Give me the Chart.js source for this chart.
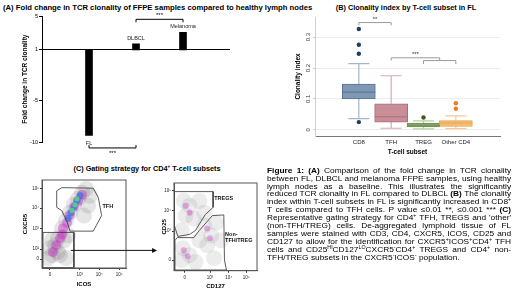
<!DOCTYPE html>
<html lang="en">
<head>
  <meta charset="UTF-8">
  <title>Figure 1</title>
  <script src="https://cdn.jsdelivr.net/npm/chart.js"></script>
  <style>
    body { margin: 0; padding: 0; background: #fff; font-family: Arial, "Liberation Sans", sans-serif; }
    #fig { position: relative; width: 520px; height: 291px; overflow: hidden; background: #fff; }
    canvas { position: absolute; }
    .ttl { position: absolute; font-weight: bold; font-size: 7.3px; line-height: 9px; white-space: nowrap; color: #000; }
    .ttl sup, #caption sup { font-size: 4.6px; vertical-align: 3px; line-height: 0; }
    #caption { position: absolute; left: 266.5px; top: 166.8px; width: 211px; font-size: 7.2px; line-height: 7.9px; color: #000;
               transform: scaleX(1.157); transform-origin: 0 0; }
    #caption div { white-space: nowrap; text-align: justify; text-align-last: justify; height: 7.9px; }
    #caption div.last { text-align-last: left; }
  </style>
</head>
<body>
<div id="fig">
  <div class="ttl" style="left:3px; top:2.5px; font-size:7.7px;">(A) Fold change in TCR clonality of FFPE samples compared to healthy lymph nodes</div>
  <div class="ttl" style="left:406px; top:2.5px; transform:translateX(-50%);">(B) Clonality index by T-cell subset in FL</div>
  <div class="ttl" style="left:147px; top:163.5px; transform:translateX(-50%);">(C) Gating strategy for CD4<sup>+</sup> T-cell subsets</div>

  <canvas id="chartA" width="240" height="152" style="left:0px; top:12px;"></canvas>
  <canvas id="chartB" width="230" height="150" style="left:290px; top:10px;"></canvas>
  <canvas id="flowLeft" width="150" height="119" style="left:10px; top:172px;"></canvas>
  <canvas id="flowRight" width="115" height="116" style="left:150px; top:175px;"></canvas>

  <div id="caption">
    <div><b>Figure 1: (A)</b> Comparison of the fold change in TCR clonality</div>
    <div>between FL, DLBCL and melanoma FFPE samples, using healthy</div>
    <div>lymph nodes as a baseline. This illustrates the significantly</div>
    <div>reduced TCR clonality in FL compared to DLBCL <b>(B)</b> The clonality</div>
    <div>index within T-cell subsets in FL is significantly increased in CD8<sup>+</sup></div>
    <div>T cells compared to TFH cells. P value ≤0.01 **, ≤0.001 *** <b>(C)</b></div>
    <div>Representative gating strategy for CD4<sup>+</sup> TFH, TREGS and 'other'</div>
    <div>(non-TFH/TREG) cells. De-aggregated lymphoid tissue of FL</div>
    <div>samples were stained with CD3, CD4, CXCR5, ICOS, CD25 and</div>
    <div>CD127 to allow for the identification for CXCR5<sup>+</sup>ICOS<sup>+</sup>CD4<sup>+</sup> TFH</div>
    <div>cells and CD25<sup>HI</sup>CD127<sup>LO</sup>CXCR5<sup>-</sup>CD4<sup>+</sup> TREGS and CD4<sup>+</sup> non-</div>
    <div class="last">TFH/TREG subsets in the CXCR5<sup>-</sup>ICOS<sup>-</sup> population.</div>
  </div>
</div>

<script>
  // ---- (A) fold change in TCR clonality, baseline = healthy lymph nodes (1)
  const foldLabels = ['', 'FL', 'DLBCL', 'Melanoma', ''];
  const foldValues = [null, -9.2, 1.7, 3.1, null];
  const foldBaseline = 1;
  const foldTicks = [5, 1, -5, -10];
  const foldSig = [
    { from: 'DLBCL', to: 'Melanoma', y: 4.64, tip: 4.29, text: '***' },
    { from: 'FL', to: 'DLBCL', y: -10.71, tip: -10.36, text: '***' }
  ];

  // ---- (B) clonality index by T-cell subset
  const subsetLabels = ['CD8', 'TFH', 'TREG', 'Other CD4'];
  const boxQ1 = [0.100, 0.025, 0.009, 0.011];
  const boxMedian = [0.122, 0.042, 0.015, 0.022];
  const boxQ3 = [0.148, 0.084, 0.022, 0.030];
  const whiskerLow = [0.036, 0.005, 0.003, 0.004];
  const whiskerHigh = [0.214, 0.175, 0.029, 0.045];
  const outliersCD8 = [0.326, 0.275, 0.246, 0.025];
  const outliersTREG = [0.040];
  const outliersOther = [0.086, 0.068];
  const clonalityTicks = [0, 0.1, 0.2, 0.3];
  const clonalitySig = [
    { x1: 1, x2: 2, y: 0.347, tip: 0.338, text: '**' },
    { x1: 2, x2: 3.5, y: 0.233, tip: 0.224, text: '***' },
    { x1: 3, x2: 4, y: 0.224, tip: 0.213, text: '' }
  ];

  // ---- (C) gating plots, axes in display units (0-100)
  const icosTickVals = [9.5, 45, 68, 92];
  const cxcr5TickVals = [10, 21.3, 44.6, 68, 90];
  const cd127TickVals = [13, 43.5, 66, 87];
  const cd25TickVals = [12, 45, 68.4, 91];
  const icosTickText = ['0', '10³', '10⁴', '10⁵'];
  const cxcr5TickText = ['0', '10²', '10³', '10⁴', '10⁵'];
  const cd127TickText = ['0', '10³', '10⁴', '10⁵'];
  const cd25TickText = ['0', '10³', '10⁴', '10⁵'];

  const leftGrey = [[7.1,11.2],[11.9,14.6],[21.4,14.6],[9.5,22.5],[15.5,25.8],[19,33.7],[23.8,44.9],[28.6,53.9],[33.3,62.9],[38.1,71.9],[42.9,78.7],[47.6,85.4],[52.4,89.9],
                    [57.1,82],[54.8,70.8],[50,59.6],[26.2,31.5],[31,37.1],[11.9,31.5],[19,18],[28.6,11.2]];
  const leftMagenta = [[16.7,25.8],[21.4,33.7],[25,44.9],[29.8,51.7],[33.3,60.7],[38.1,69.7],[42.9,76.4],[47.6,83.1],[13,18],[24,38]];
  const leftBlue = [[31,56.2],[34.5,62.9],[38.1,69.7],[41.7,76.4],[45.2,82]];
  const leftGreen = [[35.7,65.2],[39.3,71.9],[41.7,78.7]];
  const tfhGate = [[17.5,87.6],[23.5,91.3],[61,90.7],[67,80.1],[71,59.6],[61,41.9],[33.3,41.9],[29.4,53.9],[23.5,65.2],[17.5,68.9],[17.5,87.6]];
  const cxcr5NegGate = [[1.2,40.4],[38,40.4],[38,0.5],[1.2,0.5],[1.2,40.4]];
  const gateArrow = [[34.2, 20], [137, 20]];

  const rightGrey = [[11.8,79.7],[18.8,74.1],[14.1,62.8],[23.5,59.4],[10.6,25.6],[18.8,17.7],[9.4,12.1],[36.5,51.5],[44.7,40.2],[40,29],[30.6,34.6],[50.6,54.9],
                     [30.6,79.5],[9.4,45.9],[25.9,9.8],[48.2,14.3],[56.5,34.6],[36.5,66.2]];
  const rightMagenta = [[14.1,74.1],[18.8,66.2],[11.8,23.4],[16.5,16.6],[40,48.1],[43.5,36.9]];
  const tregGate = [[0.4,90.2],[47.1,90.2],[47.1,72.2],[37.6,63.9],[25.9,45.9],[18.8,41.4],[4.7,39.1],[0.4,51.5],[0.4,90.2]];
  const nonTfhGate = [[1.2,34.6],[3.9,37.7],[23.9,37.7],[30.6,45.9],[46.2,62.8],[60,63.6],[60.8,12.1],[63.2,0.8],[1.2,0.8],[1.2,34.6]];

  Chart.defaults.font.family = 'Arial, "Liberation Sans", sans-serif';
  Chart.defaults.color = '#000';
  Chart.defaults.animation = false;
  Chart.defaults.plugins.legend.display = false;
  Chart.defaults.plugins.tooltip.enabled = false;

  const FONT = 'Arial, "Liberation Sans", sans-serif';
  const pts = arr => arr.map(([x, y]) => ({ x, y }));
  const fixedTicks = vals => scale => { scale.ticks = vals.map(v => ({ value: v })); };

  // labels next to each bar + significance brackets
  const foldDecor = {
    id: 'foldDecor',
    afterDraw(chart) {
      const { ctx } = chart;
      const xs = chart.scales.x, ys = chart.scales.y;
      ctx.save();
      ctx.fillStyle = '#222';
      ctx.textAlign = 'center';
      ctx.font = '5.5px ' + FONT;
      foldValues.forEach((v, i) => {
        if (v === null) return;
        const x = xs.getPixelForValue(i), y = ys.getPixelForValue(v);
        if (v < foldBaseline) { ctx.textBaseline = 'top'; ctx.fillText(foldLabels[i], x, y + 5); }
        else { ctx.textBaseline = 'bottom'; ctx.fillText(foldLabels[i], x, y - 3); }
      });
      ctx.strokeStyle = '#000';
      ctx.lineWidth = 1;
      ctx.fillStyle = '#000';
      ctx.font = '6px ' + FONT;
      foldSig.forEach(s => {
        const x1 = xs.getPixelForValue(foldLabels.indexOf(s.from));
        const x2 = xs.getPixelForValue(foldLabels.indexOf(s.to));
        const yy = ys.getPixelForValue(s.y), yt = ys.getPixelForValue(s.tip);
        ctx.beginPath();
        ctx.moveTo(x1, yt); ctx.lineTo(x1, yy); ctx.lineTo(x2, yy); ctx.lineTo(x2, yt);
        ctx.stroke();
        if (s.tip < s.y) { ctx.textBaseline = 'bottom'; ctx.fillText(s.text, (x1 + x2) / 2, yy - 0.5); }
        else { ctx.textBaseline = 'top'; ctx.fillText(s.text, (x1 + x2) / 2, yy + 2); }
      });
      ctx.restore();
    }
  };

  new Chart(document.getElementById('chartA'), {
    type: 'bar',
    data: {
      labels: foldLabels,
      datasets: [{
        data: foldValues.map(v => v === null ? null : [foldBaseline, v]),
        backgroundColor: '#000',
        barThickness: 7
      }]
    },
    options: {
      responsive: false,
      layout: { padding: { left: 0, right: 10, top: 4, bottom: 22 } },
      scales: {
        x: { display: false, offset: false },
        y: {
          min: -10, max: 5,
          afterBuildTicks: fixedTicks(foldTicks),
          afterFit: s => { s.width = 42; },
          ticks: { font: { size: 5.5 }, color: '#000', padding: 1, autoSkip: false },
          grid: {
            color: c => (c.tick && c.tick.value === foldBaseline) ? '#000' : 'rgba(0,0,0,0)',
            tickColor: '#000', tickLength: 3
          },
          border: { color: '#000' },
          title: { display: true, text: 'Fold change in TCR clonality', font: { size: 6.5, weight: 'bold' }, padding: { top: 21, bottom: 0 } }
        }
      }
    },
    plugins: [foldDecor]
  });

  // ---- (B) box plot
  const boxFill = ['#8098b4', '#c98f98', '#91ad74', '#f4c078'];
  const boxEdge = ['#557596', '#ad6c78', '#6c8f4c', '#e9a248'];
  const whiskerColor = ['#a3b6c9', '#d9a8af', '#b9cfa3', '#f3c892'];
  const dotColor = ['#1c3c6a', '#8a3a4a', '#3d5a20', '#e8801a'];

  const boxParts = {
    id: 'boxParts',
    beforeDatasetsDraw(chart) {
      const { ctx } = chart;
      const xs = chart.scales.x, ys = chart.scales.y;
      ctx.save();
      ctx.lineWidth = 1.2;
      subsetLabels.forEach((c, i) => {
        const x = xs.getPixelForValue(i + 1);
        const cap = 10.5;
        ctx.strokeStyle = whiskerColor[i];
        ctx.beginPath();
        ctx.moveTo(x, ys.getPixelForValue(boxQ3[i])); ctx.lineTo(x, ys.getPixelForValue(whiskerHigh[i]));
        ctx.moveTo(x, ys.getPixelForValue(boxQ1[i])); ctx.lineTo(x, ys.getPixelForValue(whiskerLow[i]));
        ctx.moveTo(x - cap, ys.getPixelForValue(whiskerHigh[i])); ctx.lineTo(x + cap, ys.getPixelForValue(whiskerHigh[i]));
        ctx.moveTo(x - cap, ys.getPixelForValue(whiskerLow[i])); ctx.lineTo(x + cap, ys.getPixelForValue(whiskerLow[i]));
        ctx.stroke();
      });
      ctx.restore();
    },
    afterDatasetsDraw(chart) {
      const { ctx } = chart;
      const xs = chart.scales.x, ys = chart.scales.y;
      ctx.save();
      ctx.lineWidth = 1;
      subsetLabels.forEach((c, i) => {
        const x = xs.getPixelForValue(i + 1), y = ys.getPixelForValue(boxMedian[i]);
        ctx.strokeStyle = boxEdge[i];
        ctx.beginPath(); ctx.moveTo(x - 16.5, y); ctx.lineTo(x + 16.5, y); ctx.stroke();
      });
      ctx.restore();
    },
    afterDraw(chart) {
      const { ctx } = chart;
      const xs = chart.scales.x, ys = chart.scales.y;
      ctx.save();
      ctx.strokeStyle = '#999';
      ctx.fillStyle = '#333';
      ctx.lineWidth = 1;
      ctx.font = '6px ' + FONT;
      ctx.textAlign = 'center';
      ctx.textBaseline = 'bottom';
      clonalitySig.forEach(s => {
        const x1 = xs.getPixelForValue(s.x1), x2 = xs.getPixelForValue(s.x2);
        const yy = ys.getPixelForValue(s.y), yt = ys.getPixelForValue(s.tip);
        ctx.beginPath();
        ctx.moveTo(x1, yt); ctx.lineTo(x1, yy); ctx.lineTo(x2, yy); ctx.lineTo(x2, yt);
        ctx.stroke();
        if (s.text) ctx.fillText(s.text, (x1 + x2) / 2, yy - 0.5);
      });
      ctx.restore();
    }
  };

  const outlierSet = (vals, i) => ({
    type: 'scatter',
    data: vals.map(v => ({ x: i + 1, y: v })),
    backgroundColor: dotColor[i], borderWidth: 0, pointRadius: 2.2, order: 0
  });

  new Chart(document.getElementById('chartB'), {
    type: 'bar',
    data: {
      datasets: [
        {
          data: subsetLabels.map((c, i) => ({ x: i + 1, y: [boxQ1[i], boxQ3[i]] })),
          backgroundColor: boxFill, borderColor: boxEdge, borderWidth: 1,
          borderSkipped: false, barThickness: 33, order: 1
        },
        outlierSet(outliersCD8, 0),
        outlierSet(outliersTREG, 2),
        outlierSet(outliersOther, 3)
      ]
    },
    options: {
      responsive: false,
      layout: { padding: { left: 0, right: 20, top: 7, bottom: 0 } },
      scales: {
        x: {
          type: 'linear', min: 0.36, max: 4.65,
          afterBuildTicks: fixedTicks(subsetLabels.map((c, i) => i + 1)),
          afterFit: s => { s.height = 24; },
          ticks: { font: { size: 6 }, color: '#222', padding: 3, autoSkip: false, maxRotation: 0, callback: (v, i) => subsetLabels[i] },
          grid: { display: false, drawTicks: false },
          border: { color: '#777' },
          title: { display: true, text: 'T-cell subset', font: { size: 6.5, weight: 'bold' }, padding: { top: 0, bottom: 4.1 } }
        },
        y: {
          min: -0.02, max: 0.365,
          afterBuildTicks: fixedTicks(clonalityTicks),
          afterFit: s => { s.width = 25; },
          ticks: { font: { size: 6 }, color: '#333', minRotation: 90, maxRotation: 90, crossAlign: 'center', padding: 0, callback: v => String(v) },
          grid: { color: '#ececec', tickColor: '#c8c8c8', tickLength: 2 },
          border: { color: '#d0d0d0' },
          title: { display: true, text: 'Clonality index', font: { size: 6.5, weight: 'bold' }, padding: { top: 4.1, bottom: 0 } }
        }
      }
    },
    plugins: [boxParts]
  });

  // ---- (C) gating plots
  const frame = {
    id: 'frame',
    afterDraw(chart) {
      const { ctx, chartArea: a } = chart;
      ctx.save();
      ctx.strokeStyle = '#555';
      ctx.lineWidth = 1;
      ctx.strokeRect(a.left, a.top, a.right - a.left, a.bottom - a.top);
      ctx.restore();
    }
  };

  const arrow = {
    id: 'arrow',
    afterDraw(chart) {
      const { ctx } = chart;
      const xs = chart.scales.x, ys = chart.scales.y;
      const x1 = xs.getPixelForValue(gateArrow[0][0]), y1 = ys.getPixelForValue(gateArrow[0][1]);
      const x2 = xs.getPixelForValue(gateArrow[1][0]), y2 = ys.getPixelForValue(gateArrow[1][1]);
      ctx.save();
      ctx.strokeStyle = '#111'; ctx.fillStyle = '#111'; ctx.lineWidth = 1;
      ctx.beginPath(); ctx.moveTo(x1, y1); ctx.lineTo(x2 - 4, y2); ctx.stroke();
      ctx.beginPath(); ctx.moveTo(x2, y2); ctx.lineTo(x2 - 5, y2 - 2.5); ctx.lineTo(x2 - 5, y2 + 2.5); ctx.closePath(); ctx.fill();
      ctx.restore();
    }
  };

  const cloud = (arr, color, r, order) => ({ data: pts(arr), backgroundColor: color, borderWidth: 0, pointRadius: r, order });
  const gate = (arr) => ({ data: pts(arr), showLine: true, borderColor: '#333', borderWidth: 0.8, pointRadius: 0, fill: false, order: 0 });

  function flowAxes(xVals, xText, xTitle, yVals, yText, yTitle, yWidth, xHeight, yTitlePad, xTitlePad) {
    return {
      x: {
        type: 'linear', min: 0, max: 100,
        afterBuildTicks: fixedTicks(xVals),
        afterFit: s => { s.height = xHeight; },
        ticks: { font: { size: 4.5 }, color: '#222', padding: 2, autoSkip: false, maxRotation: 0, callback: (v, i) => xText[i] },
        grid: { drawOnChartArea: false, tickColor: '#333', tickLength: 2 },
        border: { color: '#555' },
        title: { display: true, text: xTitle, font: { size: 6, weight: 'bold' }, padding: { top: 0, bottom: xTitlePad } }
      },
      y: {
        min: 0, max: 100,
        afterBuildTicks: fixedTicks(yVals),
        afterFit: s => { s.width = yWidth; },
        ticks: { font: { size: 4.5 }, color: '#222', padding: 1, autoSkip: false, callback: (v, i) => yText[i] },
        grid: { drawOnChartArea: false, tickColor: '#333', tickLength: 2 },
        border: { color: '#555' },
        title: { display: true, text: yTitle, font: { size: 6, weight: 'bold' }, padding: { top: yTitlePad, bottom: 0 } }
      }
    };
  }

  new Chart(document.getElementById('flowLeft'), {
    type: 'scatter',
    data: {
      datasets: [
        gate(tfhGate),
        gate(cxcr5NegGate),
        cloud(leftGreen, 'rgba(70,225,120,0.85)', 2.5, 1),
        cloud(leftBlue, 'rgba(60,110,225,0.7)', 3.5, 2),
        cloud(leftMagenta, 'rgba(205,45,205,0.45)', 5, 3),
        cloud(leftGrey, 'rgba(110,110,110,0.18)', 8, 4)
      ]
    },
    options: {
      responsive: false,
      layout: { padding: { left: 0, right: 34, top: 7, bottom: 0 } },
      scales: flowAxes(icosTickVals, icosTickText, 'ICOS', cxcr5TickVals, cxcr5TickText, 'CXCR5', 32, 23, 11.4, 3.1)
    },
    plugins: [frame, arrow, {
      id: 'gateLabel',
      afterDraw(chart) {
        const { ctx } = chart;
        ctx.save();
        ctx.font = 'bold 5.5px ' + FONT; ctx.fillStyle = '#111'; ctx.textBaseline = 'middle';
        ctx.fillText('TFH', chart.scales.x.getPixelForValue(72), chart.scales.y.getPixelForValue(69.5));
        ctx.restore();
      }
    }]
  });

  new Chart(document.getElementById('flowRight'), {
    type: 'scatter',
    data: {
      datasets: [
        gate(tregGate),
        gate(nonTfhGate),
        cloud(rightMagenta, 'rgba(205,60,205,0.4)', 3, 3),
        cloud(rightGrey, 'rgba(120,120,120,0.14)', 8, 4)
      ]
    },
    options: {
      responsive: false,
      layout: { padding: { left: 0, right: 6, top: 7, bottom: 0 } },
      scales: flowAxes(cd127TickVals, cd127TickText, 'CD127', cd25TickVals, cd25TickText, 'CD25', 24, 20.3, 10.9, 1.4)
    },
    plugins: [frame, {
      id: 'gateLabel',
      afterDraw(chart) {
        const { ctx } = chart;
        const xs = chart.scales.x, ys = chart.scales.y;
        ctx.save();
        ctx.font = 'bold 5.5px ' + FONT; ctx.fillStyle = '#111'; ctx.textBaseline = 'middle';
        ctx.fillText('TREGS', xs.getPixelForValue(48.5), ys.getPixelForValue(82));
        ctx.fillText('Non-', xs.getPixelForValue(61.5), ys.getPixelForValue(41));
        ctx.fillText('TFH/TREG', xs.getPixelForValue(61.5), ys.getPixelForValue(35));
        ctx.restore();
      }
    }]
  });
</script>
</body>
</html>
